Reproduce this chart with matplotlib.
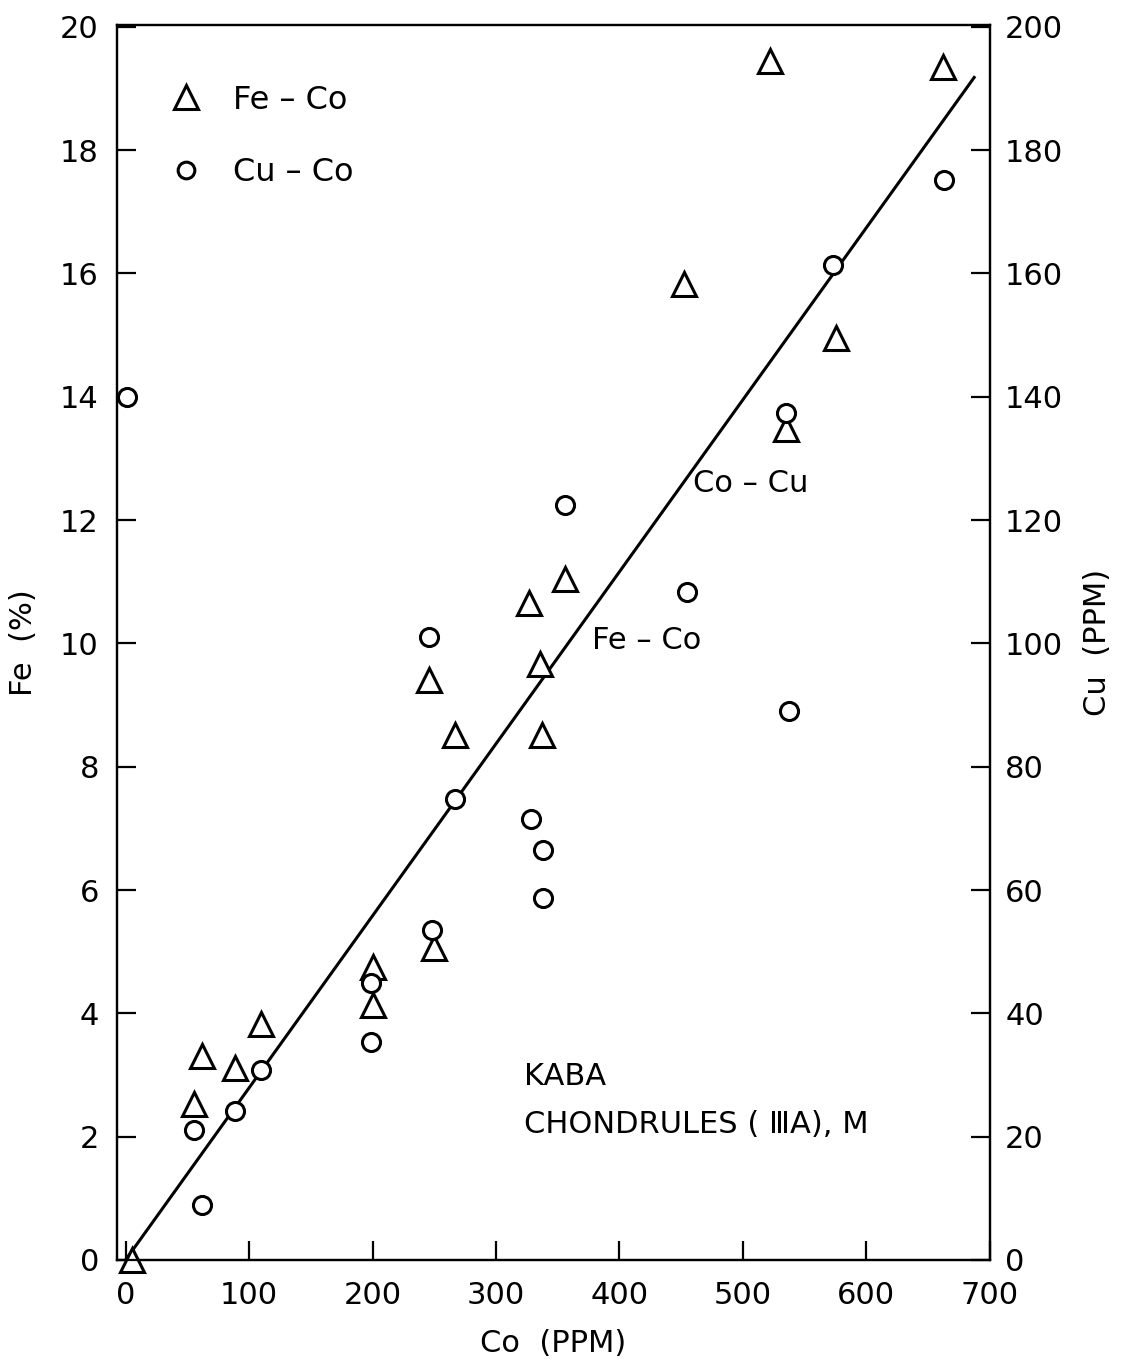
import numpy as np
import matplotlib
matplotlib.use("Agg")
import matplotlib.pyplot as plt
from matplotlib.lines import Line2D

plt.rcParams['font.family'] = ['DejaVu Sans']

# Fe vs Co (triangles, left axis)
fe_co = [5, 55, 62, 89, 110, 200, 200, 250, 246, 267, 327, 356, 336, 337, 452, 522, 575, 535, 662]
fe_pct = [0.0, 2.53, 3.30, 3.11, 3.82, 4.75, 4.13, 5.06, 9.40, 8.52, 10.65, 11.05, 9.66, 8.52, 15.83, 19.45, 14.96, 13.47, 19.35]

# Cu vs Co (circles, right axis)
cu_co = [1, 55, 62, 89, 110, 199, 199, 248, 246, 267, 328, 338, 338, 356, 455, 537, 535, 573, 663]
cu_ppm = [140, 21.1, 8.9, 24.1, 30.8, 44.9, 35.3, 53.5, 101.1, 74.7, 71.5, 66.5, 58.7, 122.4, 108.4, 89.0, 137.4, 161.3, 175.2]

# regression line through the origin
fit_co = [0, 688]
fit_fe = [0, 19.2]

x_ticks = [0, 100, 200, 300, 400, 500, 600, 700]
fe_ticks = [0, 2, 4, 6, 8, 10, 12, 14, 16, 18, 20]
cu_ticks = [0, 20, 40, 60, 80, 100, 120, 140, 160, 180, 200]

fig = plt.figure(figsize=(11.3, 13.68), dpi=100)
ax = fig.add_axes([0.1035, 0.079, 0.7725, 0.9027])
ax2 = ax.twinx()

ax.plot(fit_co, fit_fe, color='black', lw=2.2, solid_capstyle='butt', zorder=2)
ax.plot(fe_co, fe_pct, linestyle='none', marker='^', ms=17, mfc='white',
        mec='black', mew=2.2, zorder=3, clip_on=False)
ax2.plot(cu_co, cu_ppm, linestyle='none', marker='o', ms=13, mfc='white',
         mec='black', mew=2.2, zorder=3, clip_on=False)

ax.set_xlim(-7, 697)
ax.set_ylim(0, 20.03)
ax2.set_ylim(0, 200.3)

ax.set_xticks(x_ticks)
ax.set_yticks(fe_ticks)
ax2.set_yticks(cu_ticks)

for a in (ax, ax2):
    for s in a.spines.values():
        s.set_linewidth(1.6)
ax.tick_params(axis='both', direction='in', length=14, width=1.6,
               labelsize=22, pad=13)
ax.tick_params(axis='x', pad=15)
ax2.tick_params(axis='y', direction='in', length=14, width=1.6,
                labelsize=22, pad=11)

ax.set_xlabel('Co  (PPM)', fontsize=22, labelpad=14)
ax.set_ylabel('Fe  (%)', fontsize=22, labelpad=16)
ax2.set_ylabel('Cu  (PPM)', fontsize=22, rotation=90, labelpad=14)

handles = [
    Line2D([], [], linestyle='none', marker='^', ms=17, mfc='white', mec='black', mew=2.2),
    Line2D([], [], linestyle='none', marker='o', ms=12, mfc='white', mec='black', mew=2.2),
]
ax2.legend(handles, ['Fe – Co', 'Cu – Co'], loc='upper left',
           bbox_to_anchor=(0.021, 0.975), frameon=False, fontsize=23,
           handlelength=1.4, handletextpad=0.75, labelspacing=1.3)

ax.text(422, 10.05, 'Fe – Co', fontsize=22, ha='center', va='center')
ax.text(506, 12.6, 'Co – Cu', fontsize=22, ha='center', va='center')
ax.text(323, 2.98, 'KABA', fontsize=22, ha='left', va='center')
ax.text(323, 2.19, 'CHONDRULES ( ⅢA), M', fontsize=22, ha='left', va='center')

fig.savefig('out.png', dpi=100)
